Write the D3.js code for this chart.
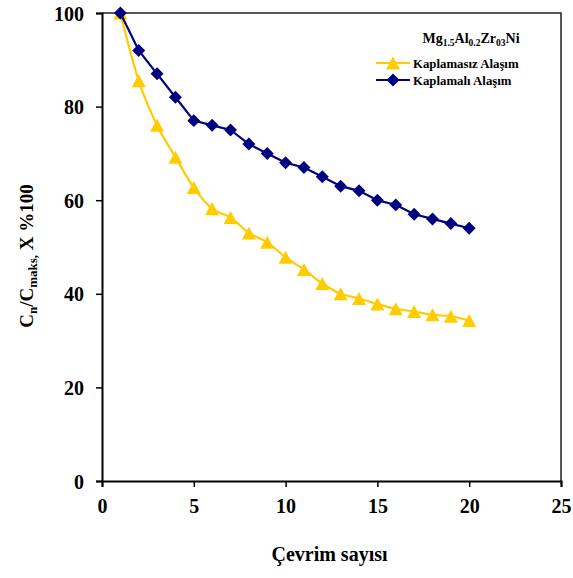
<!DOCTYPE html>
<html>
<head>
<meta charset="utf-8">
<script src="https://cdn.jsdelivr.net/npm/d3@7/dist/d3.min.js"></script>
<style>
  html, body { margin: 0; padding: 0; background: #fff; }
  svg { display: block; font-family: "Liberation Serif", "Times New Roman", serif; font-weight: bold; }
</style>
</head>
<body>
<svg id="chart" width="573" height="578"></svg>
<script>
// Cycle numbers and capacity retention (%) for the two alloys
const cycles = [1,2,3,4,5,6,7,8,9,10,11,12,13,14,15,16,17,18,19,20];
const uncoated = [100,85.5,76,69.2,62.7,58.2,56.3,53,51,47.8,45.2,42.2,40,39,37.8,36.8,36.2,35.5,35.2,34.3];
const coated = [100,92,87,82,77,76,75,72,70,68,67,65,63,62,60,59,57,56,55,54];
const xTicks = [0,5,10,15,20,25];
const yTicks = [0,20,40,60,80,100];
const seriesNames = ["Kaplamasız Alaşım", "Kaplamalı Alaşım"];

const svg = d3.select("#chart");
const margin = {left: 102, top: 13, right: 12, bottom: 97};
const W = 573, H = 578;

const x = d3.scaleLinear().domain([0, 25]).range([margin.left, W - margin.right]);
const y = d3.scaleLinear().domain([0, 100]).range([H - margin.bottom, margin.top]);

// plot frame (top and right)
svg.append("path")
  .attr("d", `M${x(0)},${y(100)}H${x(25)}V${y(0)}`)
  .attr("fill", "none").attr("stroke", "#222").attr("stroke-width", 1.5);

// axes
const xAxis = svg.append("g").attr("transform", `translate(0,${y(0)})`)
  .call(d3.axisBottom(x).tickValues(xTicks).tickSize(6).tickPadding(12).tickFormat(d3.format("d")));
const yAxis = svg.append("g").attr("transform", `translate(${x(0)},0)`)
  .call(d3.axisLeft(y).tickValues(yTicks).tickSize(6).tickPadding(12).tickFormat(d3.format("d")));
[xAxis, yAxis].forEach(g => {
  g.select(".domain").attr("stroke", "#000").attr("stroke-width", 2);
  g.selectAll(".tick line").attr("stroke", "#000").attr("stroke-width", 1.5);
  g.selectAll(".tick text")
    .attr("font-family", "Liberation Serif, serif").attr("font-weight", "bold")
    .attr("font-size", 20).attr("fill", "#000");
});
yAxis.selectAll(".tick text").attr("dy", "0.35em");

// series
const yellow = "#FFCC00", navy = "#000080";
const ptsU = cycles.map((c, i) => [c, uncoated[i]]);
const ptsC = cycles.map((c, i) => [c, coated[i]]);

const smooth = d3.line().x(d => x(d[0])).y(d => y(d[1])).curve(d3.curveCatmullRom.alpha(0));
const straight = d3.line().x(d => x(d[0])).y(d => y(d[1]));

// triangle marker centred on its bounding box
const triSymbol = {
  draw(ctx, size) {
    const w = Math.sqrt(size * 2), h = w * 0.93;
    ctx.moveTo(0, -h / 2);
    ctx.lineTo(w / 2, h / 2);
    ctx.lineTo(-w / 2, h / 2);
    ctx.closePath();
  }
};

svg.append("path").attr("d", smooth(ptsU))
  .attr("fill", "none").attr("stroke", yellow).attr("stroke-width", 2.2);
const tri = d3.symbol().type(triSymbol).size(98);
svg.append("g").selectAll("path").data(ptsU).join("path")
  .attr("d", tri)
  .attr("transform", d => `translate(${x(d[0])},${y(d[1])})`)
  .attr("fill", yellow);

svg.append("path").attr("d", straight(ptsC))
  .attr("fill", "none").attr("stroke", navy).attr("stroke-width", 2.2);
const dia = d3.symbol().type(d3.symbolSquare).size(84);
svg.append("g").selectAll("path").data(ptsC).join("path")
  .attr("d", dia)
  .attr("transform", d => `translate(${x(d[0])},${y(d[1])}) rotate(45)`)
  .attr("fill", navy);

// legend
const lg = svg.append("g").attr("fill", "#000");
const title = lg.append("text").attr("x", 471).attr("y", 43)
  .attr("text-anchor", "middle").attr("font-size", 14);
[["Mg", false], ["1.5", true], ["Al", false], ["0.2", true], ["Zr", false], ["03", true], ["Ni", false]]
  .forEach(([t, sub], i, arr) => {
    const prevSub = i > 0 && arr[i - 1][1];
    const ts = title.append("tspan").text(t).attr("font-size", sub ? 9.5 : 14);
    if (sub) ts.attr("dy", 3);
    else if (prevSub) ts.attr("dy", -3);
  });

const legendRows = [
  {name: seriesNames[0], color: yellow, sym: tri, rot: 0, y: 63},
  {name: seriesNames[1], color: navy, sym: dia, rot: 45, y: 80}
];
legendRows.forEach(r => {
  lg.append("line").attr("x1", 376).attr("x2", 410).attr("y1", r.y).attr("y2", r.y)
    .attr("stroke", r.color).attr("stroke-width", 2.2);
  lg.append("path").attr("d", r.sym)
    .attr("transform", `translate(393,${r.y}) rotate(${r.rot})`).attr("fill", r.color);
  lg.append("text").attr("x", 413).attr("y", r.y + 4.5).attr("font-size", 12.8).text(r.name);
});

// axis titles
svg.append("text").attr("x", x(12.5) - 2).attr("y", 561)
  .attr("text-anchor", "middle").attr("font-size", 20).text("Çevrim sayısı");

const yt = svg.append("text").attr("transform", "translate(33,256) rotate(-90)")
  .attr("text-anchor", "middle").attr("font-size", 19);
yt.append("tspan").text("C");
yt.append("tspan").text("n").attr("font-size", 13).attr("dy", 4);
yt.append("tspan").text("/C").attr("dy", -4);
yt.append("tspan").text("maks,").attr("font-size", 13).attr("dy", 4);
yt.append("tspan").text(" X %100").attr("dy", -4);
</script>
</body>
</html>
